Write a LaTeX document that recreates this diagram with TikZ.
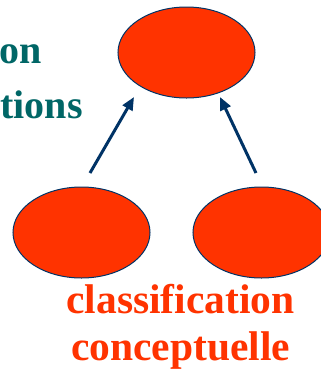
\documentclass[tikz,border=0pt]{standalone}
\usepackage{fontspec}
\setmainfont{Liberation Serif}
\usetikzlibrary{shapes.geometric,arrows.meta}
\definecolor{blob}{HTML}{FF3300}
\definecolor{navy}{HTML}{003366}
\definecolor{teal}{HTML}{006666}
\tikzset{
  blobnode/.style={ellipse, draw=navy, line width=1pt, fill=blob, minimum width=137pt, minimum height=91pt, inner sep=0pt},
  uparrow/.style={draw=navy, line width=3pt, -{Triangle[length=13pt,width=11pt]}},
  tealtext/.style={text=teal, font=\fontsize{40}{46}\selectfont\bfseries, inner sep=0pt},
  redtext/.style={text=blob, font=\fontsize{41.5}{48}\selectfont\bfseries, inner sep=0pt}
}
\begin{document}
\begin{tikzpicture}[x=1pt,y=-1pt]
\useasboundingbox (0,0) rectangle (321,373);
\clip (0,0) rectangle (321,373);
\node[blobnode] (top) at (186.5,52.5) {};
\node[blobnode] (left) at (81.5,232.5) {};
\node[blobnode] (right) at (261.5,232.5) {};
\coordinate (ls) at (90,173);
\coordinate (lt) at (134,97);
\coordinate (rs) at (256,173);
\coordinate (rt) at (220,97);
\draw[uparrow] (ls) -- (lt);
\draw[uparrow] (rs) -- (rt);
\node[tealtext, anchor=base east] (t1) at (42,63) {on};
\node[tealtext, anchor=base east] (t2) at (83,118) {tions};
\node[redtext, anchor=base] (r1) at (180.5,313) {classification};
\node[redtext, anchor=base] (r2) at (180.5,360) {conceptuelle};
\end{tikzpicture}
\end{document}
